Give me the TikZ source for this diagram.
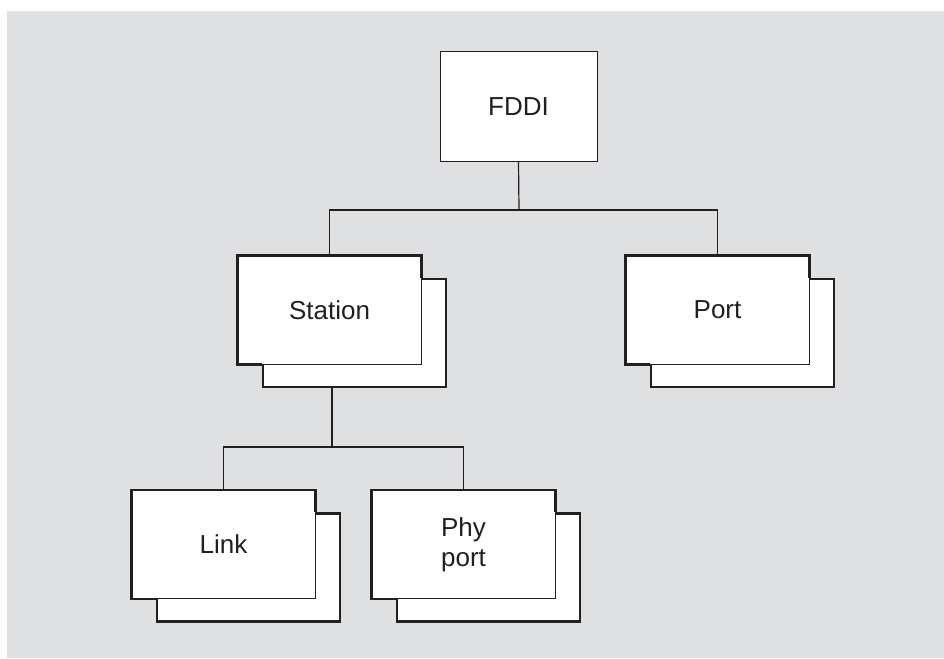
\documentclass[tikz,border=0pt]{standalone}
\usepackage{fontspec}
\setmainfont{Liberation Sans}
\definecolor{ink}{RGB}{35,31,32}
\definecolor{bggray}{RGB}{223,224,226}
\tikzset{
  frontbox/.style={draw=ink, fill=white, line width=1pt, minimum width=183pt, minimum height=108pt,
    inner sep=0pt, font=\fontsize{26}{30}\selectfont, text=ink, align=center},
  backbox/.style={draw=ink, fill=white, line width=2.6pt, minimum width=183pt, minimum height=108pt, inner sep=0pt},
  thickedge/.style={draw=ink, line width=2.6pt, line join=miter},
  conn/.style={draw=ink, line width=1.2pt},
}
\newcommand{\stackbox}[4]{%
  \node[backbox] (#1-b) at (#2+25,#3+23) {};
  \node[frontbox] (#1) at (#2,#3) {#4};
  \draw[thickedge] (#1-b.west |- #1.south) -- (#1.south west) -- (#1.north west) -- (#1.north east) -- (#1.east |- #1-b.north);
}
\begin{document}
\begin{tikzpicture}[x=1pt,y=-1pt]
\useasboundingbox (0,0) rectangle (944,658);
\fill[bggray] (7,11) rectangle (944,658);
% top node
\node[frontbox, minimum width=157pt, minimum height=109pt] (fddi) at (518.5,106.5) {FDDI};
% stacked nodes
\stackbox{st}{329.5}{310}{Station}
\stackbox{port}{717.5}{310}{Port}
\stackbox{link}{223.5}{544.5}{Link}
\stackbox{phy}{463.5}{544.5}{Phy\\port}
% junctions
\coordinate (j1) at (519,210);
\coordinate (j2) at (332,447);
% connectors
\draw[conn] (fddi.south) -- (j1);
\draw[conn] (st.north) -- (st.north |- j1) -- (port.north |- j1) -- (port.north);
\draw[conn] (j2 |- st-b.south) -- (j2);
\draw[conn] (link.north) -- (link.north |- j2) -- (phy.north |- j2) -- (phy.north);
\end{tikzpicture}
\end{document}
